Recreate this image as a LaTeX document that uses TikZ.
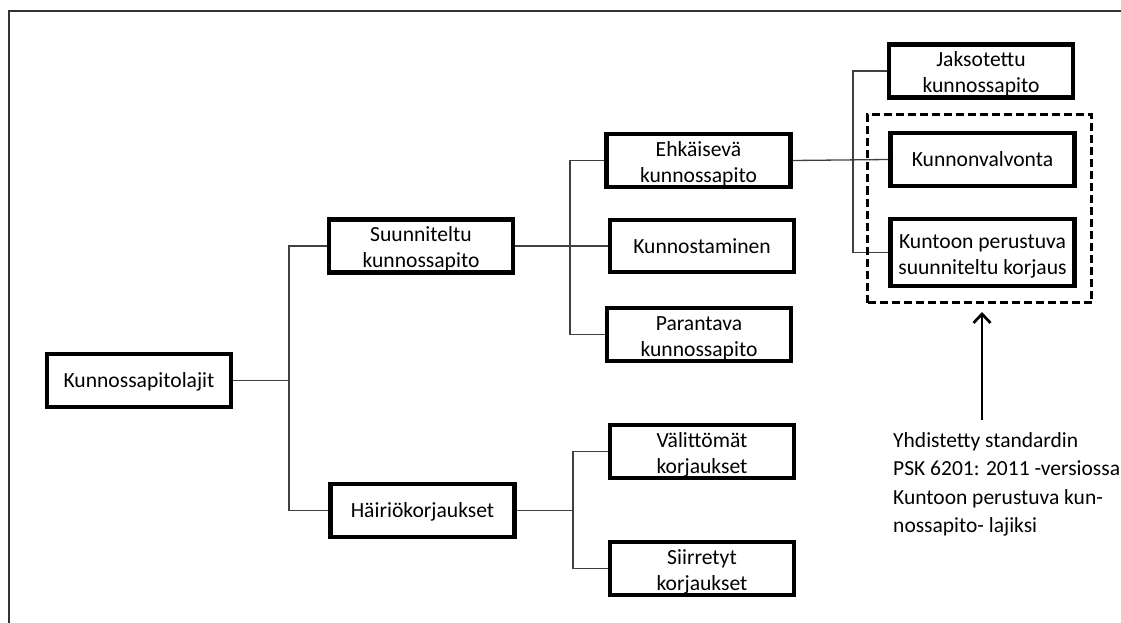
\documentclass[tikz,border=0pt]{standalone}
\usepackage{fontspec}
\setmainfont{Carlito}
\usetikzlibrary{arrows.meta}

% invisible struts fixing the line height and depth inside the boxes
\newcommand\bxs{\rule[-5pt]{0pt}{24pt}}
\newcommand\bxt{\rule[-5pt]{0pt}{27pt}}

\tikzset{
  box/.style={draw=black, line width=4.1pt, fill=white, inner sep=0pt,
    minimum width=184pt, minimum height=52.5pt, align=center,
    font=\fontsize{21.6}{26}\selectfont},
  link/.style={draw=black!75, line width=1.3pt},
  frameline/.style={draw=black!80, line width=2pt},
  groupbox/.style={draw=black, line width=2.7pt, dash pattern=on 8pt off 4pt},
  pointer/.style={draw=black, line width=2.7pt,
    -{Straight Barb[length=9pt,width=17pt,line width=2.7pt]}},
  note/.style={anchor=north west, inner sep=0pt, align=left,
    font=\fontsize{21.5}{28.5}\selectfont}
}

\begin{document}
\begin{tikzpicture}[x=1pt,y=-1pt]
  \useasboundingbox (0,0) rectangle (1121,623);

  % outer frame, open at the right and bottom
  \draw[frameline] (9,623) -- (9,11) -- (1121,11);

  % tree of maintenance types
  \node[box] (root)    at (139,380.5) {\bxs Kunnossapitolajit};
  \node[box] (suun)    at (421,246)   {\bxt Suunniteltu\\\bxs kunnossapito};
  \node[box] (hair)    at (422.5,510.5) {\bxs Häiriökorjaukset};
  \node[box] (ehk)     at (698.5,160.5) {\bxt Ehkäisevä\\\bxs kunnossapito};
  \node[box] (kunnost) at (702,246)   {\bxs Kunnostaminen};
  \node[box] (parant)  at (699,334.5) {\bxt Parantava\\\bxs kunnossapito};
  \node[box] (valit)   at (702,451.5) {\bxt Välittömät\\\bxs korjaukset};
  \node[box] (siirr)   at (702,568.5) {\bxt Siirretyt\\\bxs korjaukset};
  \node[box] (jaks)    at (981,71)    {\bxt Jaksotettu\\\bxs kunnossapito};
  \node[box] (kvalv)   at (982.5,159.5) {\bxs Kunnonvalvonta};
  \node[box, minimum height=66.5pt] (kunt) at (982.5,252.5)
    {\bxt Kuntoon perustuva\\\bxs suunniteltu korjaus};

  % branch points of the connectors
  \coordinate (j1) at (289,380.5);
  \coordinate (j2) at (570,246);
  \coordinate (j3) at (573,510.5);
  \coordinate (j4) at (853,160);

  \draw[link] (root.east) -- (j1);
  \draw[link] (suun.west) -| (j1);
  \draw[link] (hair.west) -| (j1);

  \draw[link] (suun.east) -- (kunnost.west);
  \draw[link] (ehk.west) -| (j2);
  \draw[link] (parant.west) -| (j2);

  \draw[link] (hair.east) -- (j3);
  \draw[link] (valit.west) -| (j3);
  \draw[link] (siirr.west) -| (j3);

  \draw[link] (ehk.east) -- (kvalv.west);
  \draw[link] (jaks.west) -| (j4);
  \draw[link] (kunt.west) -| (j4);

  % dashed group around the condition-based items
  \node[groupbox, inner sep=0pt, minimum width=224pt, minimum height=188pt]
    (grp) at (979.5,208.5) {};

  % note with its pointer
  \node[note] (txt) at (893,432)
    {Yhdistetty standardin\\PSK 6201: 2011 -versiossa\\Kuntoon perustuva kun-\\nossapito- lajiksi};
  \coordinate (tail) at (982,420);
  \coordinate (tip) at (982,312);
  \draw[pointer] (tail) -- (tip);
\end{tikzpicture}
\end{document}
